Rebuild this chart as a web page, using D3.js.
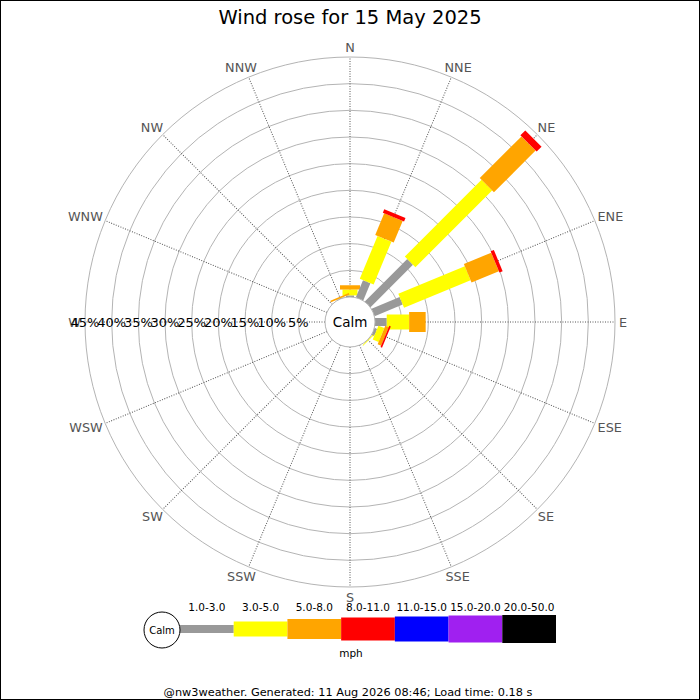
<!DOCTYPE html>
<html>
<head>
<meta charset="utf-8">
<script src="https://cdn.jsdelivr.net/npm/d3@7"></script>
<style>
  body { margin: 0; background: #fff; }
  text { font-family: "DejaVu Sans", sans-serif; }
</style>
</head>
<body>
<script>
// wind rose, 15 May 2025 -- values in % of time
const directions = ['N', 'NNE', 'NE', 'ENE', 'E', 'ESE', 'SE', 'SSE', 'S', 'SSW', 'SW', 'WSW', 'W', 'WNW', 'NW', 'NNW'];
const speedBins = ['1.0-3.0', '3.0-5.0', '5.0-8.0', '8.0-11.0', '11.0-15.0', '15.0-20.0', '20.0-50.0'];
const pctTicks = [5, 10, 15, 20, 25, 30, 35, 40, 45];

const speed1to3   = [0.3, 3.5, 11.25, 5.7, 2.2, 0.5, 0.05, 0, 0, 0, 0, 0, 0, 0, 0, 0.1];
const speed3to5   = [1.1, 8.7, 20.35, 13.5, 4.2, 1.2, 0.15, 0, 0, 0, 0, 0, 0, 0, 0, 0];
const speed5to8   = [0.8, 4.4, 11.05, 5.55, 3.1, 0.7, 0, 0, 0, 0, 0, 0, 0, 0, 0, 0.3];
const speed8to11  = [0, 0.7, 1.3, 0.65, 0, 0.3, 0, 0, 0, 0, 0, 0, 0, 0, 0, 0];
const speed11to15 = [0, 0, 0, 0, 0, 0, 0, 0, 0, 0, 0, 0, 0, 0, 0, 0];
const speed15to20 = [0, 0, 0, 0, 0, 0, 0, 0, 0, 0, 0, 0, 0, 0, 0, 0];
const speed20to50 = [0, 0, 0, 0, 0, 0, 0, 0, 0, 0, 0, 0, 0, 0, 0, 0];

const series = [speed1to3, speed3to5, speed5to8, speed8to11, speed11to15, speed15to20, speed20to50];
const colours = ['#999999', '#ffff00', '#ffa500', '#ff0000', '#0000ff', '#a020f0', '#000000'];
const barWidth = [8, 15, 20, 23, 25, 27, 28];

const W = 700, H = 700;
const cx = 350, cy = 322, calmR = 25;

const svg = d3.select('body').append('svg')
    .attr('width', W)
    .attr('height', H);

svg.append('rect')
    .attr('x', 0.5).attr('y', 0.5)
    .attr('width', W - 1).attr('height', H - 1)
    .attr('fill', '#fff')
    .attr('stroke', '#000');

svg.append('text')
    .attr('x', cx).attr('y', 24)
    .attr('text-anchor', 'middle')
    .style('font-size', '19.5px')
    .text('Wind rose for 15 May 2025');

let r = d3.scaleLinear().domain([0, 45]).range([calmR, 265]);
let ang = d3.scalePoint().domain(directions).range([0, 360 - 22.5]);

let rose = svg.append('g')
    .attr('transform', `translate(${cx},${cy})`);

// rings
rose.selectAll('circle.ring')
    .data(pctTicks)
    .enter()
    .append('circle')
    .attr('class', 'ring')
    .attr('r', d => r(d))
    .attr('fill', 'none')
    .attr('stroke', '#b4b4b4')
    .attr('stroke-width', 1);

// spokes
rose.selectAll('line.spoke')
    .data(directions)
    .enter()
    .append('line')
    .attr('class', 'spoke')
    .attr('transform', d => `rotate(${ang(d)})`)
    .attr('x1', 0).attr('x2', 0)
    .attr('y1', -calmR).attr('y2', -r(45))
    .attr('stroke', '#555')
    .attr('stroke-width', 1)
    .attr('stroke-dasharray', '1,1.5');

// direction labels, pushed out by half their width
let dirLab = rose.selectAll('text.dir')
    .data(directions)
    .enter()
    .append('text')
    .attr('class', 'dir')
    .attr('text-anchor', 'middle')
    .attr('dominant-baseline', 'central')
    .style('font-size', '12.8px')
    .attr('fill', '#555')
    .text(d => d);

dirLab.each(function(d) {
    let a = ang(d) * Math.PI / 180;
    let w = this.getComputedTextLength();
    let R = 269;
    d3.select(this)
        .attr('x', (R + w / 2) * Math.sin(a))
        .attr('y', -(R + 6) * Math.cos(a));
});

// stacked bars
directions.forEach((dir, i) => {
    let g = rose.append('g')
        .attr('transform', `rotate(${ang(dir)})`);
    let start = 0;
    series.forEach((s, k) => {
        let v = s[i];
        if (v > 0) {
            g.append('rect')
                .attr('x', -barWidth[k] / 2)
                .attr('width', barWidth[k])
                .attr('y', -r(start + v))
                .attr('height', r(start + v) - r(start))
                .attr('fill', colours[k]);
        }
        start += v;
    });
});

// calm circle
rose.append('circle')
    .attr('r', calmR)
    .attr('fill', '#fff')
    .attr('stroke', '#b4b4b4');

rose.append('text')
    .attr('text-anchor', 'middle')
    .attr('dominant-baseline', 'central')
    .style('font-size', '13.5px')
    .text('Calm');

// percentage labels along the west axis
rose.selectAll('text.pct')
    .data(pctTicks)
    .enter()
    .append('text')
    .attr('class', 'pct')
    .attr('x', d => -r(d))
    .attr('y', 0)
    .attr('text-anchor', 'middle')
    .attr('dominant-baseline', 'central')
    .style('font-size', '13px')
    .text(d => d + '%');

// legend
let lx = d3.scaleBand().domain(speedBins).range([180, 556]);
let legend = svg.append('g');
let ly = 629;

legend.selectAll('rect')
    .data(speedBins)
    .enter()
    .append('rect')
    .attr('x', d => lx(d))
    .attr('width', lx.bandwidth())
    .attr('y', (d, i) => ly - barWidth[i] / 2)
    .attr('height', (d, i) => barWidth[i])
    .attr('fill', (d, i) => colours[i]);

legend.selectAll('text.bin')
    .data(speedBins)
    .enter()
    .append('text')
    .attr('class', 'bin')
    .attr('x', d => lx(d) + lx.bandwidth() / 2)
    .attr('y', 611)
    .attr('text-anchor', 'middle')
    .style('font-size', '10.5px')
    .text(d => d);

legend.append('circle')
    .attr('cx', 162).attr('cy', 630)
    .attr('r', 18)
    .attr('fill', '#fff')
    .attr('stroke', '#000');

legend.append('text')
    .attr('x', 162).attr('y', 630)
    .attr('text-anchor', 'middle')
    .attr('dominant-baseline', 'central')
    .style('font-size', '10px')
    .text('Calm');

legend.append('text')
    .attr('x', 351).attr('y', 657)
    .attr('text-anchor', 'middle')
    .style('font-size', '10.5px')
    .text('mph');

svg.append('text')
    .attr('x', 348).attr('y', 696)
    .attr('text-anchor', 'middle')
    .style('font-size', '11.3px')
    .text('@nw3weather. Generated: 11 Aug 2026 08:46; Load time: 0.18 s');
</script>
</body>
</html>
